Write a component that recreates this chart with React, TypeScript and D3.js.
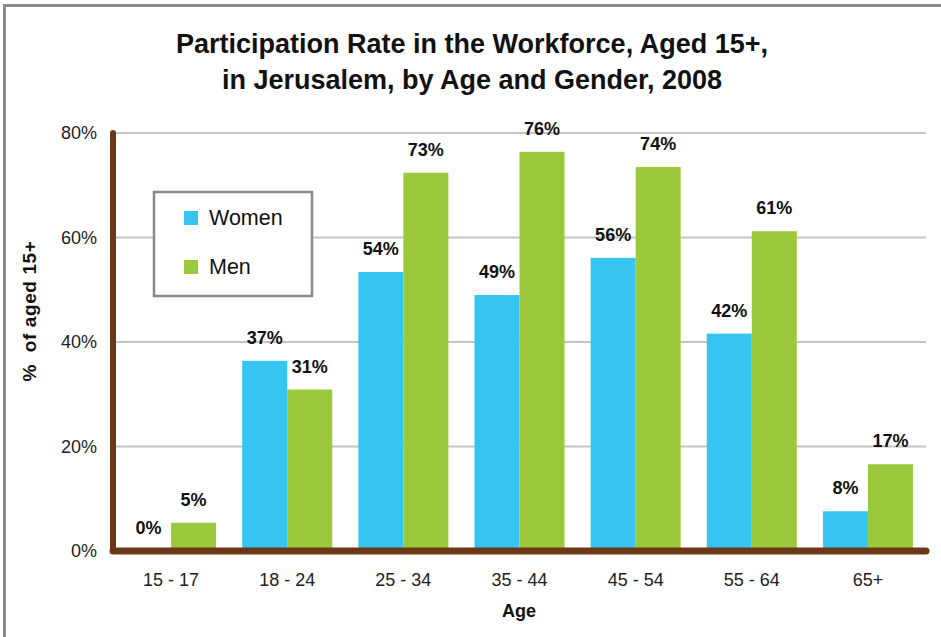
import * as d3 from 'd3';
import { useEffect, useRef } from 'react';

const ageGroups = ['15 - 17', '18 - 24', '25 - 34', '35 - 44', '45 - 54', '55 - 64', '65+'];
const women = [0, 36.4, 53.4, 49.0, 56.1, 41.6, 7.6];
const men = [5.4, 30.9, 72.4, 76.4, 73.5, 61.2, 16.6];
const womenLabels = ['0%', '37%', '54%', '49%', '56%', '42%', '8%'];
const menLabels = ['5%', '31%', '73%', '76%', '74%', '61%', '17%'];
const yTicks = [0, 20, 40, 60, 80];
const seriesNames = ['Women', 'Men'];

const W = 941;
const H = 637;
const COLORS = ['#36C5F0', '#9BC93C'];
const BROWN = '#6B3817';
const FONT = 'Liberation Sans, Arial, sans-serif';

export default function App() {
    const ref = useRef<SVGSVGElement>(null);

    useEffect(() => {
        document.body.style.margin = '0';
        const svg = d3.select(ref.current);
        svg.selectAll('*').remove();

        const margin = { top: 133, right: 15, bottom: 86, left: 113 };
        const innerW = W - margin.left - margin.right;
        const innerH = H - margin.top - margin.bottom;

        // outer frame
        svg.append('rect')
            .attr('x', 4.5).attr('y', 5.5)
            .attr('width', 1000).attr('height', 1000)
            .attr('fill', '#fff')
            .attr('stroke', '#8a8a8a')
            .attr('stroke-width', 3);

        const title = ['Participation Rate in the Workforce, Aged 15+,', 'in Jerusalem, by Age and Gender, 2008'];
        svg.selectAll('.title')
            .data(title)
            .join('text')
            .attr('class', 'title')
            .attr('x', 472).attr('y', (_, i) => 53 + i * 36)
            .attr('text-anchor', 'middle')
            .attr('font-family', FONT)
            .attr('font-weight', 'bold')
            .attr('font-size', 27)
            .attr('fill', '#111')
            .text(d => d);

        const g = svg.append('g')
            .attr('transform', `translate(${margin.left},${margin.top})`)
            .attr('font-family', FONT);

        const x0 = d3.scaleBand().domain(ageGroups).range([0, innerW]).paddingInner(0.225).paddingOuter(0.1125);
        const x1 = d3.scaleBand().domain(seriesNames).range([0, x0.bandwidth()]);
        const y = d3.scaleLinear().domain([0, 80]).range([innerH, 0]);

        // gridlines
        g.append('g')
            .selectAll('line')
            .data(yTicks.filter(t => t > 0))
            .join('line')
            .attr('x1', 0).attr('x2', innerW)
            .attr('y1', d => y(d)).attr('y2', d => y(d))
            .attr('stroke', '#c4c4c4')
            .attr('stroke-width', 2);

        // y tick labels
        const yAxis = g.append('g')
            .call(d3.axisLeft(y).tickValues(yTicks).tickSize(0).tickPadding(16).tickFormat(d => `${d}%`));
        yAxis.select('.domain').remove();
        yAxis.selectAll('text')
            .attr('font-size', 18)
            .attr('font-family', FONT)
            .attr('fill', '#222');

        // x tick labels
        const xAxis = g.append('g')
            .attr('transform', `translate(0,${innerH})`)
            .call(d3.axisBottom(x0).tickSize(0).tickPadding(22));
        xAxis.select('.domain').remove();
        xAxis.selectAll('text')
            .attr('font-size', 18)
            .attr('font-family', FONT)
            .attr('fill', '#222');

        const rows = ageGroups.map((a, i) => ({
            age: a,
            vals: [
                { s: 'Women', v: women[i], label: womenLabels[i], c: COLORS[0] },
                { s: 'Men', v: men[i], label: menLabels[i], c: COLORS[1] },
            ],
        }));

        const grp = g.selectAll('.grp')
            .data(rows)
            .join('g')
            .attr('class', 'grp')
            .attr('transform', d => `translate(${x0(d.age)},0)`);

        grp.selectAll('rect')
            .data(d => d.vals)
            .join('rect')
            .attr('x', d => x1(d.s)!)
            .attr('width', x1.bandwidth())
            .attr('y', d => y(d.v))
            .attr('height', d => innerH - y(d.v))
            .attr('fill', d => d.c);

        grp.selectAll('text')
            .data(d => d.vals)
            .join('text')
            .attr('x', d => x1(d.s)! + x1.bandwidth() / 2)
            .attr('y', d => y(d.v) - 17)
            .attr('text-anchor', 'middle')
            .attr('font-size', 18)
            .attr('font-weight', 'bold')
            .attr('fill', '#111')
            .text(d => d.label);

        // axis lines
        g.append('line')
            .attr('x1', 0).attr('x2', 0)
            .attr('y1', 0).attr('y2', innerH)
            .attr('stroke', BROWN).attr('stroke-width', 6).attr('stroke-linecap', 'round');
        g.append('line')
            .attr('x1', 0).attr('x2', innerW)
            .attr('y1', innerH).attr('y2', innerH)
            .attr('stroke', BROWN).attr('stroke-width', 7).attr('stroke-linecap', 'round');

        // axis titles
        svg.append('text')
            .attr('x', 519).attr('y', 617)
            .attr('text-anchor', 'middle')
            .attr('font-family', FONT)
            .attr('font-weight', 'bold')
            .attr('font-size', 18)
            .attr('fill', '#111')
            .text('Age');
        svg.append('text')
            .attr('transform', 'translate(36,311) rotate(-90)')
            .attr('text-anchor', 'middle')
            .attr('font-family', FONT)
            .attr('font-weight', 'bold')
            .attr('font-size', 19)
            .attr('letter-spacing', 0.6)
            .attr('fill', '#111')
            .attr('xml:space', 'preserve')
            .style('white-space', 'pre')
            .text('%  of aged 15+');

        // legend
        const lg = svg.append('g').attr('transform', 'translate(154,192)');
        lg.append('rect')
            .attr('width', 158).attr('height', 104)
            .attr('fill', '#fff')
            .attr('stroke', '#8a8a8a')
            .attr('stroke-width', 2.5);
        const items = lg.selectAll('.li')
            .data(seriesNames)
            .join('g')
            .attr('class', 'li')
            .attr('transform', (_, i) => `translate(30,${26 + i * 49})`);
        items.append('rect')
            .attr('y', -7).attr('width', 14).attr('height', 14)
            .attr('fill', (_, i) => COLORS[i]);
        items.append('text')
            .attr('x', 25).attr('y', 7)
            .attr('font-family', FONT)
            .attr('font-size', 21.5)
            .attr('fill', '#111')
            .text(d => d);
    }, []);

    return <svg ref={ref} width={W} height={H} style={{ display: 'block' }} />;
}
